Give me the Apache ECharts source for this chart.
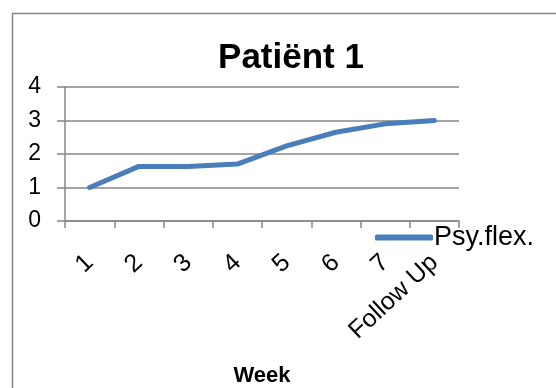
<!DOCTYPE html>
<html>
<head>
<meta charset="utf-8">
<script src="https://cdn.jsdelivr.net/npm/echarts@6/dist/echarts.min.js"></script>
<style>
html,body{margin:0;padding:0;background:#fff;}
#chart{width:556px;height:388px;}
</style>
</head>
<body>
<div id="chart"></div>
<script>
var titleText = 'Patiënt 1';
var categories = ['1', '2', '3', '4', '5', '6', '7', 'Follow Up'];
var seriesName = 'Psy.flex.';
var psyFlex = [1.0, 1.63, 1.63, 1.70, 2.24, 2.65, 2.90, 3.0];
var xAxisName = 'Week';

var FONT = 'Liberation Sans, Arial, sans-serif';
var chart = echarts.init(document.getElementById('chart'), null, {renderer: 'canvas'});
chart.setOption({
  animation: false,
  backgroundColor: '#ffffff',
  graphic: [{
    type: 'rect',
    left: 10, top: 11,
    shape: {width: 600, height: 420},
    style: {fill: 'none', stroke: '#878787', lineWidth: 1.5},
    silent: true
  }],
  title: {
    text: titleText,
    left: 286,
    top: 36,
    textAlign: 'center',
    textStyle: {fontFamily: FONT, fontWeight: 'bold', fontSize: 35, color: '#000'}
  },
  legend: {
    data: [seriesName],
    left: 370,
    top: 219,
    itemWidth: 58,
    itemHeight: 6,
    itemGap: 0,
    icon: 'roundRect',
    textStyle: {fontFamily: FONT, fontSize: 27, color: '#000', padding: [0, 0, 0, -4]}
  },
  grid: {left: 65, right: 97, top: 87, bottom: 167, containLabel: false, outerBoundsMode: 'none'},
  xAxis: {
    type: 'category',
    data: categories,
    boundaryGap: true,
    name: xAxisName,
    nameLocation: 'middle',
    nameGap: 144,
    nameTextStyle: {fontFamily: FONT, fontWeight: 'bold', fontSize: 22, color: '#000'},
    axisLine: {show: true, lineStyle: {color: '#878787', width: 1.5}},
    axisTick: {show: true, length: 7, lineStyle: {color: '#878787', width: 1.5}},
    axisLabel: {fontFamily: FONT, fontSize: 25, color: '#000', rotate: 43, margin: 38, interval: 0},
    splitLine: {show: false}
  },
  yAxis: {
    type: 'value',
    min: 0, max: 4, interval: 1,
    axisLine: {show: true, lineStyle: {color: '#878787', width: 1.5}},
    axisTick: {show: true, length: 8, lineStyle: {color: '#878787', width: 1.5}},
    axisLabel: {fontFamily: FONT, fontSize: 23, color: '#000', margin: 24},
    splitLine: {show: true, lineStyle: {color: '#878787', width: 1.5}}
  },
  series: [{
    name: seriesName,
    type: 'line',
    data: psyFlex,
    showSymbol: false,
    symbol: 'none',
    lineStyle: {color: '#4a7ebb', width: 5, cap: 'round', join: 'round'},
    itemStyle: {color: '#4a7ebb'}
  }]
});
</script>
</body>
</html>
